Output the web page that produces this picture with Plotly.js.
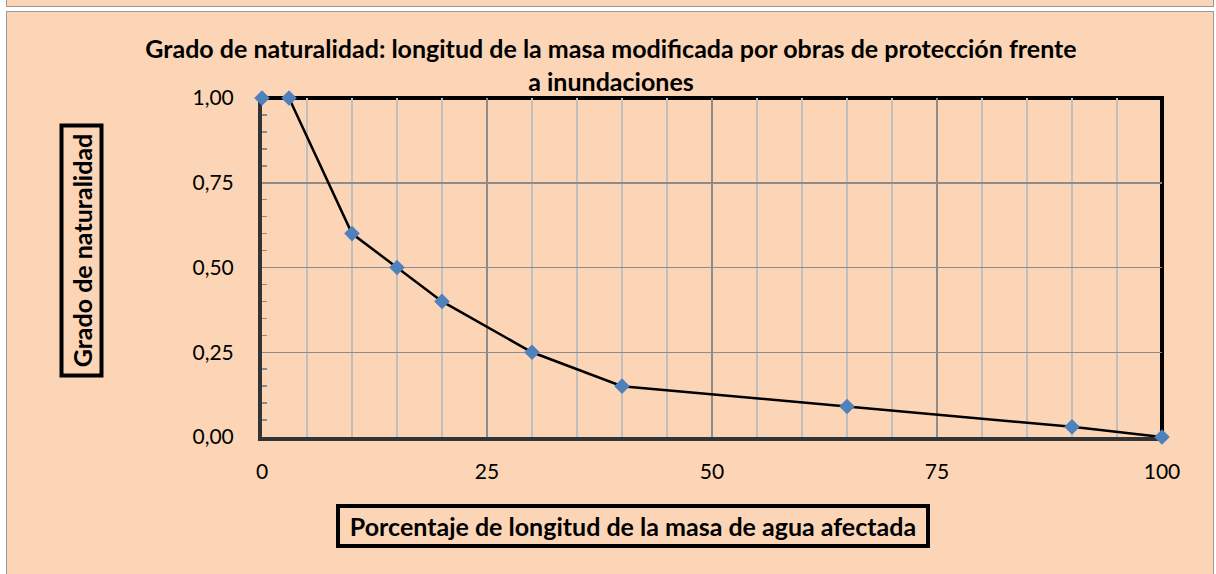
<!DOCTYPE html>
<html>
<head>
<meta charset="utf-8">
<script src="https://cdn.plot.ly/plotly-3.0.1.min.js"></script>
<style>
  html, body { margin: 0; padding: 0; background: #ffffff; width: 1216px; height: 574px; overflow: hidden; }
  #strip { position: absolute; left: 6px; top: -4px; width: 1206px; height: 9px; background: #FBD5B5; border: 1px solid #9a9a9a; }
  #frame { position: absolute; left: 6px; top: 11px; width: 1206px; height: 570px; background: #FBD5B5; border: 1px solid #9a9a9a; }
  #chart { position: absolute; left: 0; top: 0; width: 1216px; height: 574px; }
</style>
</head>
<body>
<div id="strip"></div>
<div id="frame"></div>
<div id="chart"></div>
<script>
// Data
const pctLongitud = [0, 3, 10, 15, 20, 30, 40, 65, 90, 100];
const gradoNaturalidad = [1.00, 1.00, 0.60, 0.50, 0.40, 0.25, 0.15, 0.09, 0.03, 0.00];

const chartTitle = 'Grado de naturalidad: longitud de la masa modificada por obras de protección frente<br>a inundaciones';
const xTitle = 'Porcentaje de longitud de la masa de agua afectada';
const yTitle = 'Grado de naturalidad';

const FONT = 'Lato, "Open Sans", sans-serif';

const trace = {
  x: pctLongitud,
  y: gradoNaturalidad,
  type: 'scatter',
  mode: 'lines+markers',
  line: { color: '#000000', width: 2.5 },
  marker: { symbol: 'diamond', size: 12, color: '#4F81BD' },
  cliponaxis: false,
  hoverinfo: 'x+y'
};

const layout = {
  width: 1216,
  height: 574,
  margin: { l: 262, r: 54, t: 98, b: 137, pad: 0 },
  paper_bgcolor: 'rgba(0,0,0,0)',
  plot_bgcolor: '#FBD5B5',
  separators: ',.',
  showlegend: false,
  font: { family: FONT, color: '#000000', size: 21 },
  title: {
    text: chartTitle,
    font: { family: FONT, size: 25, color: '#000000', weight: 'bold' },
    x: (611 - 262) / 900,
    xref: 'paper',
    xanchor: 'center',
    y: 1 - 58 / 574,
    yref: 'container',
    yanchor: 'middle'
  },
  xaxis: {
    range: [0, 100],
    dtick: 25,
    tick0: 0,
    showgrid: true,
    gridcolor: '#8c8c8c',
    gridwidth: 1.5,
    zeroline: false,
    showline: true,
    linecolor: '#333333',
    linewidth: 4,
    ticks: '',
    ticklabelstandoff: 13,
    tickfont: { family: FONT, size: 21, color: '#000000' },
    layer: 'below traces',
    minor: { dtick: 5, showgrid: true, gridcolor: '#bfbfbf', gridwidth: 1.5, ticks: '' },
    fixedrange: true
  },
  yaxis: {
    range: [0, 1],
    dtick: 0.25,
    tick0: 0,
    tickformat: '.2f',
    showgrid: true,
    gridcolor: '#8c8c8c',
    gridwidth: 1.5,
    zeroline: false,
    showline: true,
    linecolor: '#333333',
    linewidth: 4,
    ticks: '',
    ticklabelstandoff: 20,
    tickfont: { family: FONT, size: 21, color: '#000000' },
    layer: 'below traces',
    minor: { dtick: 0.05, ticks: 'inside', ticklen: 5, tickwidth: 1.5, tickcolor: '#8c8c8c', showgrid: false },
    fixedrange: true
  },
  shapes: [
    { type: 'line', xref: 'paper', yref: 'paper', x0: -0.002, x1: 1.002, y0: 1, y1: 1, line: { color: '#000000', width: 4 }, layer: 'between' },
    { type: 'line', xref: 'paper', yref: 'paper', x0: 1, x1: 1, y0: 0, y1: 1.006, line: { color: '#000000', width: 4 }, layer: 'between' }
  ],
  annotations: [
    {
      text: xTitle,
      xref: 'paper', yref: 'paper',
      x: (633 - 262) / 900, y: (437 - 526) / 339,
      xanchor: 'center', yanchor: 'middle',
      showarrow: false,
      width: 586, height: 36,
      bordercolor: '#000000', borderwidth: 4, borderpad: 0,
      font: { family: FONT, size: 25, color: '#000000', weight: 'bold' }
    },
    {
      text: yTitle,
      xref: 'paper', yref: 'paper',
      x: (81.5 - 262) / 900, y: (437 - 251) / 339,
      xanchor: 'center', yanchor: 'middle',
      textangle: -90,
      showarrow: false,
      width: 246, height: 36,
      bordercolor: '#000000', borderwidth: 4, borderpad: 0,
      font: { family: FONT, size: 25, color: '#000000', weight: 'bold' }
    }
  ]
};

Plotly.newPlot('chart', [trace], layout, { displayModeBar: false, staticPlot: true });
</script>
</body>
</html>
